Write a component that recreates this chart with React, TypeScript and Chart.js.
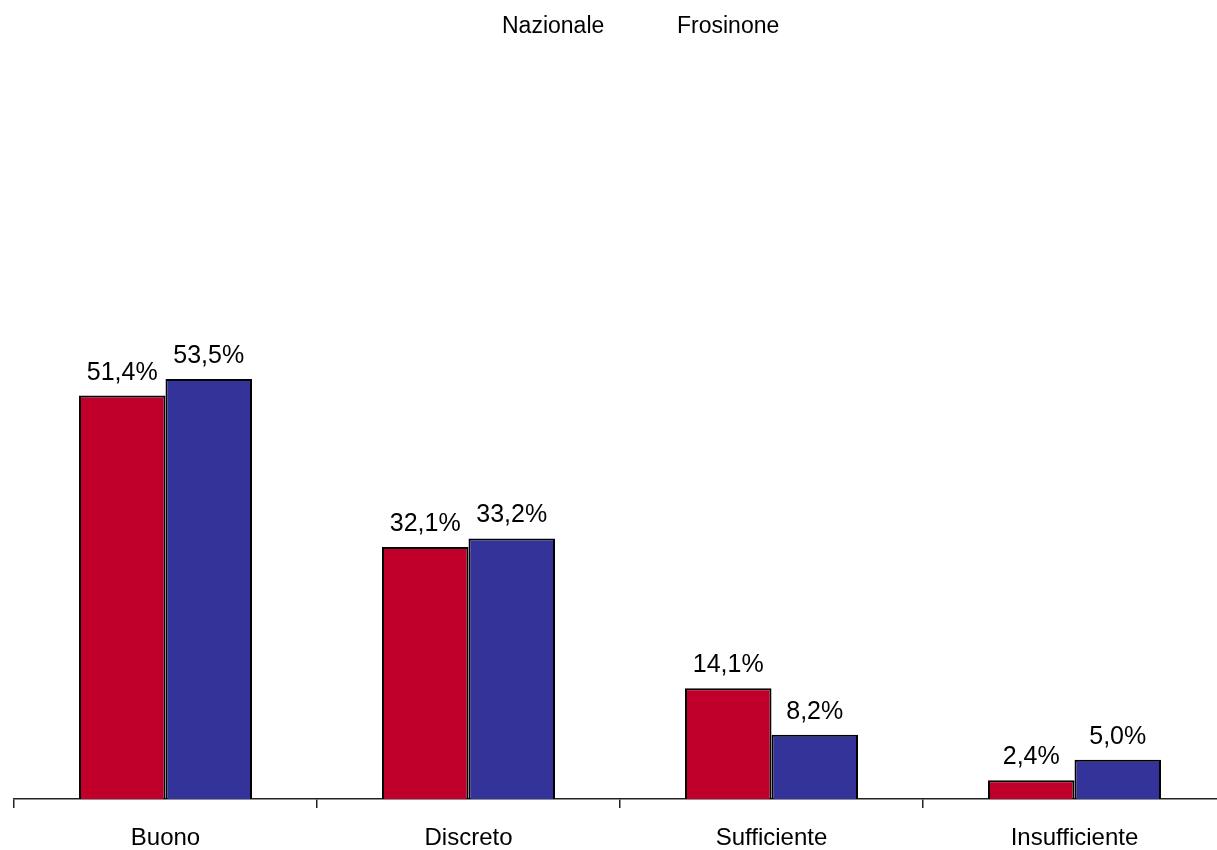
import React, { useEffect, useRef } from "react";
import { Chart, registerables } from "chart.js";

Chart.register(...registerables);

const categories = ["Buono", "Discreto", "Sufficiente", "Insufficiente"];
const seriesNames = ["Nazionale", "Frosinone"];
const nazionale = [51.4, 32.1, 14.1, 2.4];
const frosinone = [53.5, 33.2, 8.2, 5.0];

const FONT = "'Liberation Sans', Arial, sans-serif";

const valueLabels = {
  id: "valueLabels",
  afterDatasetsDraw(chart: any) {
    const ctx = chart.ctx;
    ctx.save();
    ctx.font = `25px ${FONT}`;
    ctx.fillStyle = "#000";
    ctx.textAlign = "center";
    ctx.textBaseline = "alphabetic";
    chart.data.datasets.forEach((ds: any, i: number) => {
      const meta = chart.getDatasetMeta(i);
      meta.data.forEach((el: any, j: number) => {
        const v = ds.data[j] as number;
        const txt = v.toFixed(1).replace(".", ",") + "%";
        ctx.fillText(txt, el.x, el.y - 16);
      });
    });
    ctx.restore();
  },
};

const textLegend = {
  id: "textLegend",
  afterDraw(chart: any) {
    const ctx = chart.ctx;
    ctx.save();
    ctx.font = `23px ${FONT}`;
    ctx.fillStyle = "#000";
    ctx.textAlign = "left";
    ctx.textBaseline = "alphabetic";
    const xs = [502, 677];
    chart.data.datasets.forEach((ds: any, i: number) => {
      ctx.fillText(ds.label, xs[i], 33);
    });
    ctx.restore();
  },
};

export default function App() {
  const ref = useRef<HTMLCanvasElement | null>(null);
  useEffect(() => {
    if (!ref.current) return;
    const chart = new Chart(ref.current, {
      type: "bar",
      data: {
        labels: categories,
        datasets: [
          {
            label: seriesNames[0],
            data: nazionale,
            backgroundColor: "#C0002A",
            borderColor: "#000",
            borderWidth: 2,
            barPercentage: 1,
            categoryPercentage: 0.571,
          },
          {
            label: seriesNames[1],
            data: frosinone,
            backgroundColor: "#333399",
            borderColor: "#000",
            borderWidth: 2,
            barPercentage: 1,
            categoryPercentage: 0.571,
          },
        ],
      },
      options: {
        animation: false,
        responsive: false,
        devicePixelRatio: 1,
        layout: { padding: { top: 14, left: 14, right: 14, bottom: 0 } },
        plugins: { legend: { display: false }, tooltip: { enabled: false } },
        scales: {
          y: { display: false, min: 0, max: 100 },
          x: {
            offset: true,
            afterFit: (s: any) => {
              s.height = 51;
            },
            border: { display: true, color: "#222", width: 1.5 },
            grid: {
              display: true,
              offset: true,
              drawOnChartArea: false,
              drawTicks: true,
              tickLength: 9,
              color: "#222",
              lineWidth: 1.5,
            },
            ticks: {
              color: "#000",
              font: { family: FONT, size: 24 },
              padding: 16,
            },
          },
        },
      },
      plugins: [valueLabels, textLegend],
    });
    return () => chart.destroy();
  }, []);
  return (
    <div
      style={{
        position: "fixed",
        left: 0,
        top: 0,
        width: 1217,
        height: 850,
        overflow: "hidden",
        background: "#fff",
      }}
    >
      <canvas ref={ref} width={1240} height={850} style={{ display: "block" }} />
    </div>
  );
}
